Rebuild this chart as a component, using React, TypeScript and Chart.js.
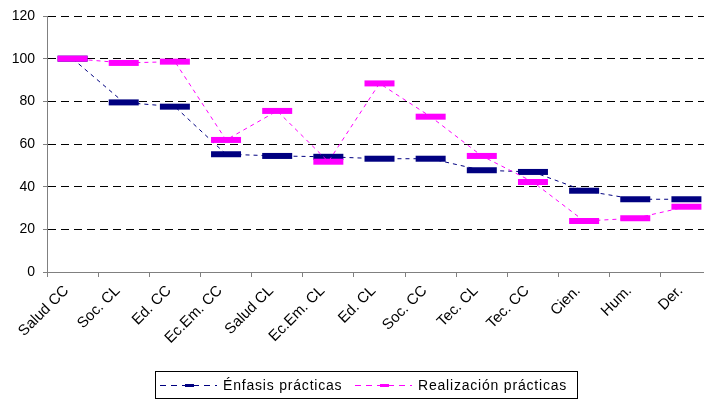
import React, { useEffect, useRef } from "react";
import { Chart, registerables } from "chart.js";

Chart.register(...registerables);

const categories = [
  "Salud CC", "Soc. CL", "Ed. CC", "Ec.Em. CC", "Salud CL", "Ec.Em. CL",
  "Ed. CL", "Soc. CC", "Tec. CL", "Tec. CC", "Cien.", "Hum.", "Der.",
];
const enfasis = [100, 79.5, 77.5, 55.2, 54.4, 54, 53.1, 53.1, 47.7, 46.9, 38.1, 34.1, 34.1];
const realizacion = [100, 98, 98.6, 61.9, 75.5, 51.7, 88.4, 72.8, 54.4, 42.2, 23.9, 25.2, 30.6];
const seriesNames = ["Énfasis prácticas", "Realización prácticas"];
const yTicks = [0, 20, 40, 60, 80, 100, 120];

const NAVY = "#000080";
const MAGENTA = "#FF00FF";
const FONT = "'Liberation Sans', Arial, sans-serif";

const legendPlugin = {
  id: "boxLegend",
  afterDraw(chart: any) {
    const ctx = chart.ctx;
    ctx.save();
    ctx.strokeStyle = "#000";
    ctx.lineWidth = 1;
    ctx.setLineDash([]);
    ctx.strokeRect(155.5, 371.5, 422, 27);
    const y = 385;
    const items = [
      { x0: 160, color: NAVY, text: seriesNames[0] },
      { x0: 355, color: MAGENTA, text: seriesNames[1] },
    ];
    ctx.font = `14px ${FONT}`;
    try { (ctx as any).letterSpacing = "0.8px"; } catch (e) {}
    ctx.textBaseline = "middle";
    ctx.textAlign = "left";
    for (const it of items) {
      ctx.strokeStyle = it.color;
      ctx.lineWidth = 1;
      ctx.setLineDash([6, 5]);
      ctx.beginPath();
      ctx.moveTo(it.x0, y + 0.5);
      ctx.lineTo(it.x0 + 57, y + 0.5);
      ctx.stroke();
      ctx.setLineDash([]);
      ctx.fillStyle = it.color;
      ctx.fillRect(it.x0 + 25, y - 1, 9, 3);
      ctx.fillStyle = "#000";
      ctx.fillText(it.text, it.x0 + 63, y + 1);
    }
    ctx.restore();
  },
};

export default function App() {
  const ref = useRef<HTMLCanvasElement>(null);
  useEffect(() => {
    if (!ref.current) return;
    const chart = new Chart(ref.current, {
      type: "line",
      data: {
        labels: categories,
        datasets: [
          {
            label: seriesNames[0],
            data: enfasis,
            borderColor: NAVY,
            backgroundColor: NAVY,
            borderWidth: 1,
            borderDash: [4, 4],
            pointStyle: "line",
            pointRadius: 15,
            pointBorderWidth: 6,
            pointBorderColor: NAVY,
            pointBackgroundColor: NAVY,
            order: 1,
            tension: 0,
          },
          {
            label: seriesNames[1],
            data: realizacion,
            borderColor: MAGENTA,
            backgroundColor: MAGENTA,
            borderWidth: 1,
            borderDash: [4, 4],
            pointStyle: "line",
            pointRadius: 15,
            pointBorderWidth: 6,
            pointBorderColor: MAGENTA,
            pointBackgroundColor: MAGENTA,
            order: 0,
            tension: 0,
          },
        ],
      },
      options: {
        responsive: false,
        animation: false,
        devicePixelRatio: 1,
        layout: { autoPadding: false, padding: { top: 16, left: 0, right: 0, bottom: 0 } },
        plugins: {
          legend: { display: false },
          tooltip: { enabled: false },
        },
        scales: {
          x: {
            offset: true,
            grid: {
              offset: true,
              drawOnChartArea: false,
              drawTicks: true,
              tickLength: 5,
              color: "#808080",
            },
            border: { display: true, color: "#808080", width: 1 },
            ticks: {
              autoSkip: false,
              minRotation: 45,
              maxRotation: 45,
              padding: 5,
              labelOffset: -6,
              color: "#000",
              font: { family: FONT, size: 15 },
            },
            afterFit(scale: any) {
              scale.height = 131;
              scale.paddingLeft = 0;
              scale.paddingRight = 0;
            },
          },
          y: {
            min: 0,
            max: 120,
            afterBuildTicks(scale: any) {
              scale.ticks = yTicks.map((v) => ({ value: v }));
            },
            grid: {
              color: "#000",
              lineWidth: 1,
              drawTicks: true,
              tickLength: 4,
              tickColor: "#808080",
            },
            border: { display: true, color: "#808080", width: 1, dash: [8, 5] },
            ticks: {
              padding: 8,
              color: "#000",
              font: { family: FONT, size: 14 },
            },
            afterFit(scale: any) {
              scale.width = 47;
              scale.paddingTop = 0;
              scale.paddingBottom = 0;
            },
          },
        },
      },
      plugins: [legendPlugin],
    });
    return () => chart.destroy();
  }, []);
  return (
    <div style={{ position: "fixed", left: 0, top: 0, width: 704, height: 403, overflow: "hidden", background: "#fff" }}>
      <canvas ref={ref} width={712} height={403} style={{ display: "block", width: 712, height: 403 }} />
    </div>
  );
}
